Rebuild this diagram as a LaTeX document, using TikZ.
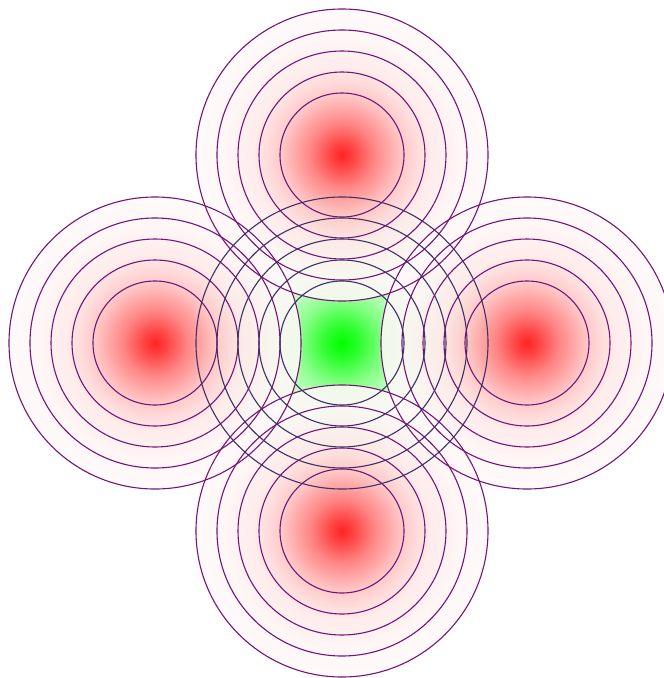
\documentclass[tikz,border=0pt]{standalone}
\usetikzlibrary{calc}
\pgfdeclareradialshading{redglow}{\pgfpoint{0bp}{0bp}}{color(0bp)=(red); color(2bp)=(red!85); color(5.5bp)=(red!55); color(10.5bp)=(red!24); color(15bp)=(red!9); color(20bp)=(red!4); color(25bp)=(red!2); color(50bp)=(red!2)}
\pgfdeclareradialshading{greenglow}{\pgfpoint{0bp}{0bp}}{color(0bp)=(green); color(3bp)=(green!82); color(7bp)=(green!48); color(10.5bp)=(green!26); color(15bp)=(green!13); color(22bp)=(green!6); color(25bp)=(green!4); color(50bp)=(green!4)}
\definecolor{ringpurple}{RGB}{118,20,118}
\definecolor{ringnavy}{RGB}{62,48,104}
\tikzset{
  outerring/.style={draw=ringpurple, line width=1.1pt},
  innerring/.style={draw=ringnavy, line width=1.1pt},
  glowdisc/.style={shading=redglow, fill opacity=0.86},
}
\begin{document}
\begin{tikzpicture}[x=1pt,y=-1pt]
\useasboundingbox (0,0) rectangle (664,678);
\fill[white] (0,0) rectangle (664,678);
\coordinate (C) at (342,343);
\coordinate (T) at (342,155);
\coordinate (L) at (155,343);
\coordinate (R) at (527,343);
\coordinate (B) at (342,531);
\shade[shading=greenglow] (C) circle (146);
\foreach \p in {T,L,R,B}{
  \shade[glowdisc] (\p) circle (146);
}
\foreach \p in {T,L,R,B}{
  \foreach \r in {62,83,104,125,146}{
    \draw[outerring] (\p) circle (\r);
  }
}
\foreach \r in {62,83,104,125,146}{
  \draw[innerring] (C) circle (\r);
}
\end{tikzpicture}
\end{document}
